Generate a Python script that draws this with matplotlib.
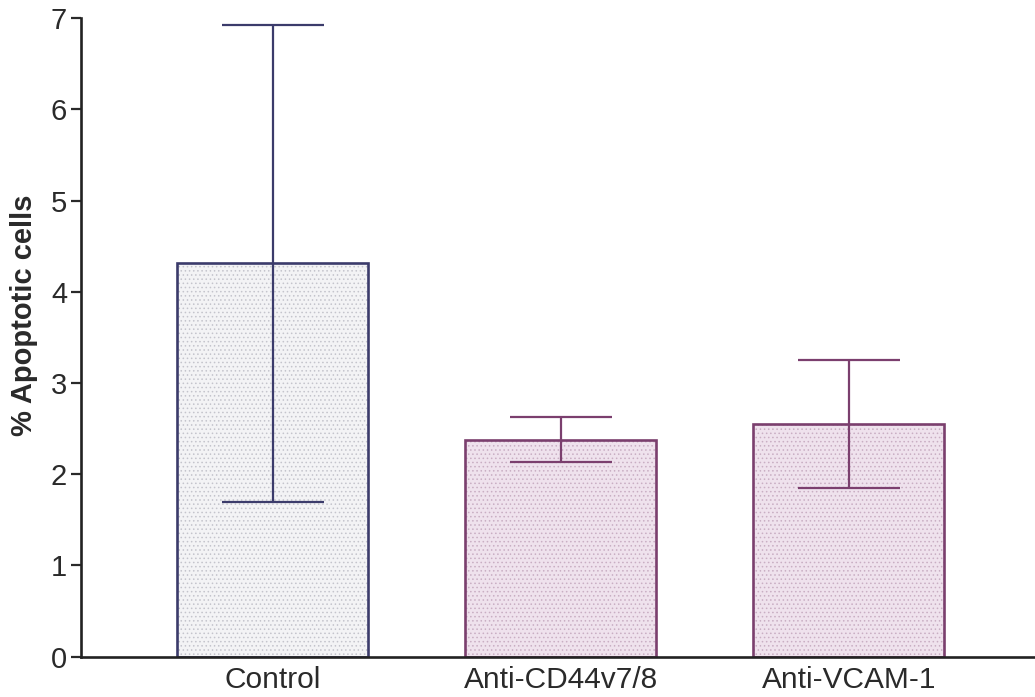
import matplotlib
matplotlib.use("Agg")
import matplotlib.pyplot as plt
import numpy as np

categories = ["Control", "Anti-CD44v7/8", "Anti-VCAM-1"]
means = [4.31, 2.38, 2.55]
errors = [2.61, 0.25, 0.70]
y_ticks = [0, 1, 2, 3, 4, 5, 6, 7]

fill_colors = ["#f3f3f5", "#efe2ed"]
dot_colors = ["#c4c4cc", "#c9aec3"]
edge_colors = ["#3b3b6b", "#7b3f6e", "#7b3f6e"]
bar_fill = [fill_colors[0], fill_colors[1], fill_colors[1]]
bar_dots = [dot_colors[0], dot_colors[1], dot_colors[1]]

plt.rcParams["font.family"] = ["Liberation Sans", "DejaVu Sans"]
plt.rcParams["hatch.linewidth"] = 0.6

fig = plt.figure(figsize=(10.35, 6.97), dpi=100)
ax = fig.add_axes([0.0783, 0.0578, 0.9217, 0.9163])

x = np.arange(len(categories))
# stippled fill
ax.bar(x, means, width=0.663, color=bar_fill, edgecolor=bar_dots,
       linewidth=0, hatch="....", zorder=1)
# outlines
ax.bar(x, means, width=0.663, color="none", edgecolor=edge_colors,
       linewidth=1.9, zorder=2)
for xi, m, e, c in zip(x, means, errors, edge_colors):
    ax.errorbar(xi, m, yerr=e, fmt="none", ecolor=c, elinewidth=1.6,
                capsize=37, capthick=1.6, zorder=3)

ax.set_xlim(-0.665, 2.646)
ax.set_ylim(0, 7)
ax.set_yticks(y_ticks)
ax.set_xticks(x)
ax.set_xticklabels(categories)

for side in ("top", "right"):
    ax.spines[side].set_visible(False)
for side in ("left", "bottom"):
    ax.spines[side].set_linewidth(1.9)
    ax.spines[side].set_color("#222222")

ax.tick_params(axis="y", direction="out", length=7, width=1.6,
               labelsize=21, colors="#2a2a2a", pad=3)
ax.tick_params(axis="x", length=0, labelsize=21.5, colors="#2a2a2a", pad=7)
ax.set_ylabel("% Apoptotic cells", fontsize=21, fontweight="bold",
              color="#2a2a2a")
ax.yaxis.set_label_coords(-0.045, 0.535)

fig.savefig("out.png", dpi=100)
